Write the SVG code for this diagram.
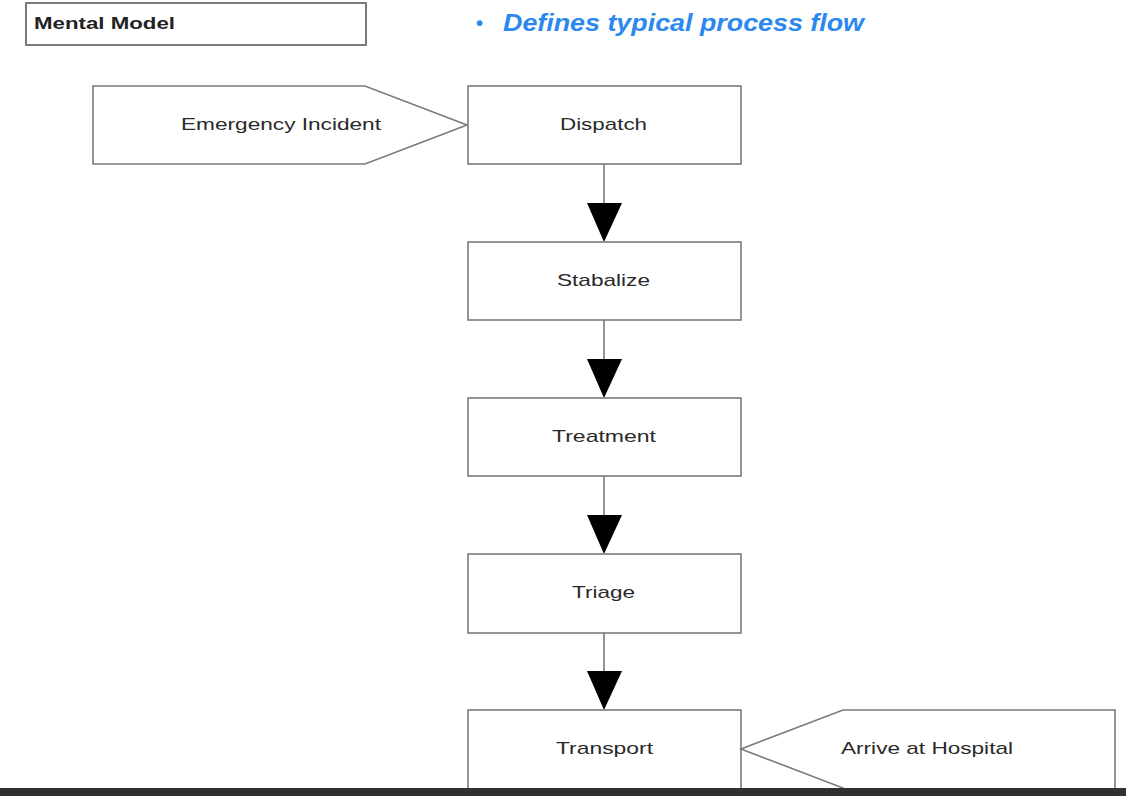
<svg xmlns="http://www.w3.org/2000/svg" width="1126" height="796" viewBox="0 0 1126 796">
<defs>
<style>
.box{fill:#fff;stroke:#7a7a7a;stroke-width:1.6}
.lbl{font-family:"Liberation Sans",Arial,sans-serif;font-size:17px;fill:#2a2a2a}
.conn{stroke:#7a7a7a;stroke-width:1.6;fill:none}
.head{fill:#000}
</style>
</defs>
<rect width="1126" height="796" fill="#fff"/>
<g id="title">
<rect x="26" y="3" width="340" height="42" fill="#fff" stroke="#7a7a7a" stroke-width="2"/>
<text x="34" y="29" font-family="Liberation Sans,Arial,sans-serif" font-weight="bold" font-size="17" fill="#222" textLength="141" lengthAdjust="spacingAndGlyphs">Mental Model</text>
</g>
<g id="bullet">
<text x="476" y="30" font-family="Liberation Sans,Arial,sans-serif" font-weight="bold" font-size="20" fill="#2a88ee">•</text>
<text x="503" y="31" font-family="Liberation Sans,Arial,sans-serif" font-weight="bold" font-style="italic" font-size="24" fill="#2a88ee" textLength="361" lengthAdjust="spacingAndGlyphs">Defines typical process flow</text>
</g>
<g id="connectors">
<line class="conn" x1="604" y1="164" x2="604" y2="205"/>
<polygon class="head" points="587,203 622,203 604,242"/>
<line class="conn" x1="604" y1="320" x2="604" y2="361"/>
<polygon class="head" points="587,359 622,359 604,398"/>
<line class="conn" x1="604" y1="476" x2="604" y2="517"/>
<polygon class="head" points="587,515 622,515 604,554"/>
<line class="conn" x1="604" y1="633" x2="604" y2="673"/>
<polygon class="head" points="587,671 622,671 604,710"/>
</g>
<g id="emergency">
<polygon class="box" points="93,86 365,86 467,125 365,164 93,164"/>
<text class="lbl" x="181" y="130" textLength="200" lengthAdjust="spacingAndGlyphs">Emergency Incident</text>
</g>
<g id="dispatch">
<rect class="box" x="468" y="86" width="273" height="78"/>
<text class="lbl" x="560" y="130" textLength="87" lengthAdjust="spacingAndGlyphs">Dispatch</text>
</g>
<g id="stabalize">
<rect class="box" x="468" y="242" width="273" height="78"/>
<text class="lbl" x="557" y="286" textLength="93" lengthAdjust="spacingAndGlyphs">Stabalize</text>
</g>
<g id="treatment">
<rect class="box" x="468" y="398" width="273" height="78"/>
<text class="lbl" x="552" y="442" textLength="104" lengthAdjust="spacingAndGlyphs">Treatment</text>
</g>
<g id="triage">
<rect class="box" x="468" y="554" width="273" height="79"/>
<text class="lbl" x="572" y="598" textLength="63" lengthAdjust="spacingAndGlyphs">Triage</text>
</g>
<g id="transport">
<rect class="box" x="468" y="710" width="273" height="90"/>
<text class="lbl" x="556" y="754" textLength="97" lengthAdjust="spacingAndGlyphs">Transport</text>
</g>
<g id="arrive">
<polygon class="box" points="741,749 843,710 1115,710 1115,800 843,800 843,788"/>
<text class="lbl" x="841" y="754" textLength="172" lengthAdjust="spacingAndGlyphs">Arrive at Hospital</text>
</g>
<rect x="0" y="788" width="1126" height="8" fill="#303030"/>
</svg>
